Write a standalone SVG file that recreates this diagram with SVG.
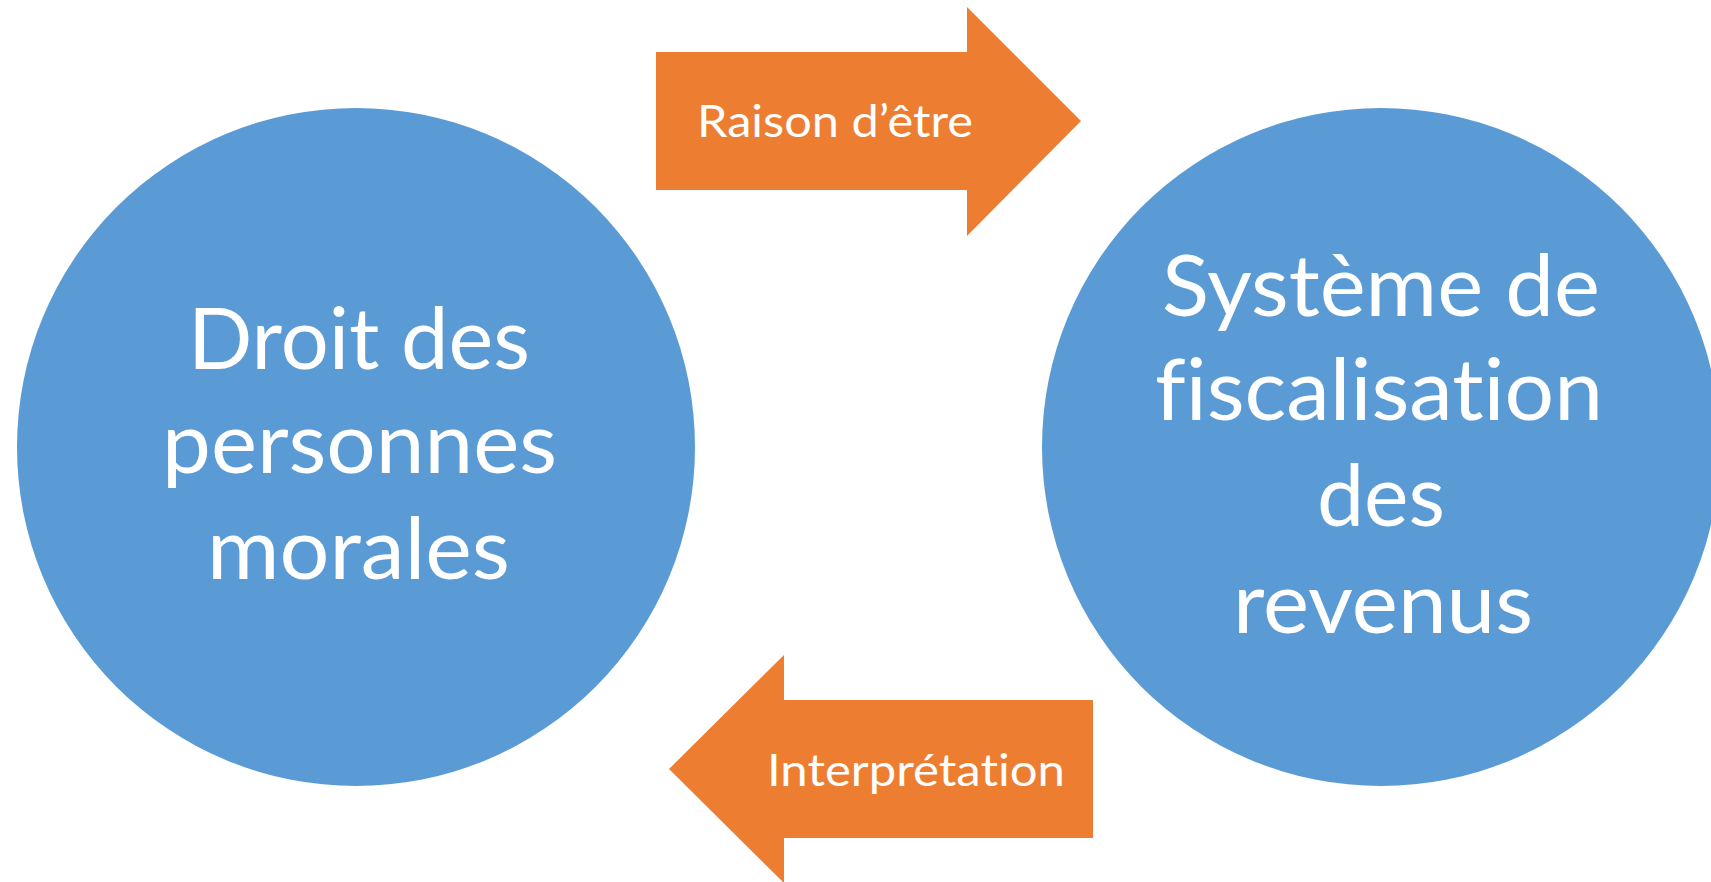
<svg xmlns="http://www.w3.org/2000/svg" width="1711" height="882" viewBox="0 0 1711 882">
  <style>
    .circle { fill: #5B9BD5; }
    .arrow { fill: #ED7D31; }
    text { font-family: Lato, "Open Sans", "Liberation Sans", sans-serif; fill: #FFFFFF; font-variant-ligatures: none; font-feature-settings: "liga" 0, "dlig" 0, "clig" 0; }
    .big { font-size: 85px; }
    .small { font-size: 45px; }
  </style>
  <rect x="0" y="0" width="1711" height="882" fill="#FFFFFF"/>
  <g id="node-droit">
    <circle class="circle" cx="356" cy="447" r="339"/>
    <text class="big" x="188" y="369" textLength="342" lengthAdjust="spacingAndGlyphs">Droit des</text>
    <text class="big" x="162" y="473" textLength="395" lengthAdjust="spacingAndGlyphs">personnes</text>
    <text class="big" x="207" y="579" textLength="303" lengthAdjust="spacingAndGlyphs">morales</text>
  </g>
  <g id="node-systeme">
    <circle class="circle" cx="1381" cy="447" r="339"/>
    <text class="big" x="1162" y="316" textLength="438" lengthAdjust="spacingAndGlyphs">Système de</text>
    <text class="big" x="1155" y="420" textLength="448" lengthAdjust="spacingAndGlyphs">fiscalisation</text>
    <text class="big" x="1317" y="526" textLength="128" lengthAdjust="spacingAndGlyphs">des</text>
    <text class="big" x="1233" y="633" textLength="300" lengthAdjust="spacingAndGlyphs">revenus</text>
  </g>
  <g id="connectors">
    <g id="arrow-raison">
      <polygon class="arrow" points="656,52 967,52 967,7 1081,121 967,236 967,190 656,190"/>
      <text class="small" x="697" y="137" textLength="276" lengthAdjust="spacingAndGlyphs">Raison d’être</text>
    </g>
    <g id="arrow-interpretation">
      <polygon class="arrow" points="1093,700 784,700 784,655 669,769 784,883 784,838 1093,838"/>
      <text class="small" x="767" y="786" textLength="298" lengthAdjust="spacingAndGlyphs">Interprétation</text>
    </g>
  </g>
</svg>
